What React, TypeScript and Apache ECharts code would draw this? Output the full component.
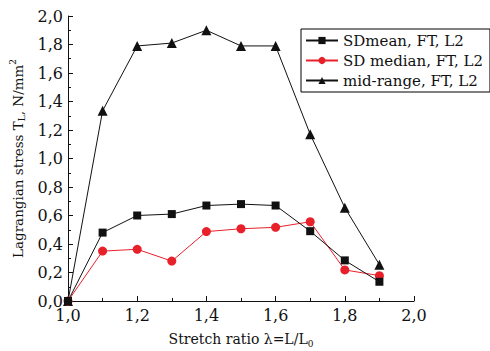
import React, { useEffect, useRef } from "react";
import * as echarts from "echarts";

const stretch = [1.0, 1.1, 1.2, 1.3, 1.4, 1.5, 1.6, 1.7, 1.8, 1.9];
const sdMean = [0.0, 0.48, 0.6, 0.61, 0.67, 0.68, 0.67, 0.49, 0.285, 0.135];
const sdMedian = [0.0, 0.35, 0.363, 0.28, 0.487, 0.507, 0.517, 0.556, 0.218, 0.178];
const midRange = [0.0, 1.335, 1.79, 1.81, 1.9, 1.79, 1.79, 1.17, 0.655, 0.255];
const seriesNames = ["SDmean, FT, L2", "SD median, FT, L2", "mid-range, FT, L2"];

const FONT = "DejaVu Serif";
const RED = "#e8202a";

const fmt = (v: number) => v.toFixed(1).replace(".", ",");

export default function App() {
  const ref = useRef<HTMLDivElement>(null);
  useEffect(() => {
    if (!ref.current) return;
    const chart = echarts.init(ref.current, null, { renderer: "svg" });
    const pair = (ys: number[]) => stretch.map((x, i) => [x, ys[i]]);
    chart.setOption({
      animation: false,
      backgroundColor: "#fff",
      textStyle: { fontFamily: FONT },
      grid: {
        left: 68,
        right: 76,
        top: 16,
        bottom: 50,
        containLabel: false,
        outerBoundsMode: "none",
      },
      legend: {
        orient: "vertical",
        left: 301,
        top: 29,
        padding: [4, 7, 4, 4],
        itemGap: 5,
        itemWidth: 32,
        itemHeight: 9,
        borderColor: "#000",
        borderWidth: 1,
        textStyle: { fontFamily: FONT, fontSize: 15, color: "#111" },
        data: seriesNames,
      },
      xAxis: {
        type: "value",
        min: 1,
        max: 2,
        interval: 0.2,
        name: "{a|Stretch ratio λ=L/L}{sub|0}",
        nameLocation: "middle",
        nameGap: 29,
        nameTextStyle: {
          fontFamily: FONT,
          fontSize: 14,
          color: "#111",
          rich: {
            a: { fontFamily: FONT, fontSize: 14, color: "#111", lineHeight: 18 },
            sub: { fontFamily: FONT, fontSize: 9, color: "#111", lineHeight: 9, verticalAlign: "bottom" },
          },
        },
        axisLine: { lineStyle: { color: "#111", width: 1 } },
        axisTick: { inside: true, length: 5, lineStyle: { color: "#111" } },
        minorTick: { show: true, splitNumber: 2, length: 3, lineStyle: { color: "#111" } },
        splitLine: { show: false },
        axisLabel: { fontFamily: FONT, fontSize: 16, color: "#111", margin: 6, formatter: fmt },
      },
      yAxis: {
        type: "value",
        min: 0,
        max: 2,
        interval: 0.2,
        name: "{a|Lagrangian stress T}{sub|L}{a|, N/mm}{sup|2}",
        nameLocation: "middle",
        nameGap: 35,
        nameTextStyle: {
          fontFamily: FONT,
          fontSize: 13.5,
          color: "#111",
          rich: {
            a: { fontFamily: FONT, fontSize: 13.5, color: "#111", lineHeight: 18 },
            sub: { fontFamily: FONT, fontSize: 9, color: "#111", lineHeight: 9, verticalAlign: "bottom" },
            sup: { fontFamily: FONT, fontSize: 9, color: "#111", lineHeight: 9, verticalAlign: "top" },
          },
        },
        axisLine: { show: true, lineStyle: { color: "#111", width: 1 } },
        axisTick: { show: true, inside: true, length: 5, lineStyle: { color: "#111" } },
        minorTick: { show: true, splitNumber: 2, length: 3, lineStyle: { color: "#111" } },
        splitLine: { show: false },
        axisLabel: { fontFamily: FONT, fontSize: 16, color: "#111", margin: 5, formatter: fmt },
      },
      series: [
        {
          name: seriesNames[0],
          type: "line",
          data: pair(sdMean),
          symbol: "rect",
          symbolSize: 8,
          itemStyle: { color: "#111" },
          lineStyle: { color: "#111", width: 1 },
          z: 4,
        },
        {
          name: seriesNames[1],
          type: "line",
          data: pair(sdMedian),
          symbol: "circle",
          symbolSize: 9,
          itemStyle: { color: RED },
          lineStyle: { color: RED, width: 1 },
          z: 3,
        },
        {
          name: seriesNames[2],
          type: "line",
          data: pair(midRange),
          symbol: "triangle",
          symbolSize: 10,
          itemStyle: { color: "#111" },
          lineStyle: { color: "#111", width: 1 },
          z: 2,
        },
      ],
    });
    return () => chart.dispose();
  }, []);
  return (
    <div
      ref={ref}
      style={{ position: "fixed", left: 0, top: 0, width: 490, height: 351 }}
    />
  );
}
